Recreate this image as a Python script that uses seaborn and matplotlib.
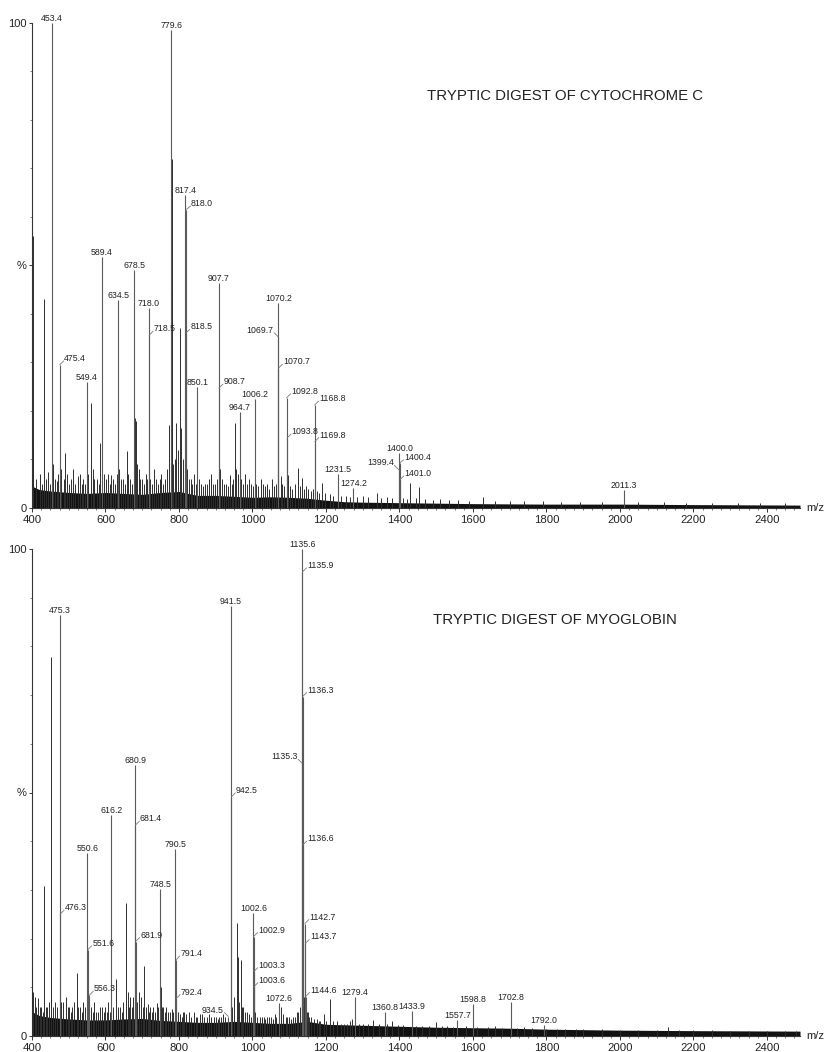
import matplotlib
matplotlib.use("Agg")
import matplotlib.pyplot as plt
import seaborn as sns

# ---------------------------------------------------------------- data
titles = ["TRYPTIC DIGEST OF CYTOCHROME C", "TRYPTIC DIGEST OF MYOGLOBIN"]
x_ticks = [400, 600, 800, 1000, 1200, 1400, 1600, 1800, 2000, 2200, 2400]
y_tick_vals = [0, 50, 100]
y_tick_text = ["0", "%", "100"]

# --- cytochrome c: labelled peaks
cyt_label_mz = [453.4, 475.4, 549.4, 589.4, 634.5, 678.5, 718.0, 718.5, 779.6, 817.4,
                818.0, 818.5, 850.1, 907.7, 908.7, 964.7, 1006.2, 1069.7, 1070.2, 1070.7,
                1092.8, 1093.8, 1168.8, 1169.8, 1231.5, 1274.2, 1399.4, 1400.0, 1400.4, 1401.0,
                2011.3]
cyt_label_int = [100, 29.5, 26, 51.8, 42.9, 49, 41.2, 35.6, 98.5, 64.5,
                 61.4, 36, 25, 46.4, 24.7, 19.8, 22.5, 35.3, 42.2, 28.8,
                 22.7, 14.4, 21.2, 13.7, 7.1, 4.1, 7.8, 11.3, 9.3, 5.8,
                 3.7]
# --- cytochrome c: unlabelled peaks
cyt_minor_mz = [402, 404, 412, 421, 428, 433.5, 438, 444, 448, 458,
                463, 468, 472, 480, 486, 490, 496, 501, 507, 512,
                518, 524, 530, 535, 540, 545, 553, 560, 565, 570,
                576, 581, 585, 591, 596, 601, 606, 611, 615, 620,
                626, 630, 638, 643, 648, 652, 657.6, 662, 667, 672,
                680, 682, 686, 690, 695, 700, 705, 710, 714, 722,
                727, 732, 737, 742, 747, 752, 757, 762, 768, 773,
                780.1, 780.6, 785, 788, 792, 797, 803, 806, 812, 822,
                826, 832, 836, 842, 846, 855, 860, 865, 870, 876,
                882, 888, 893, 898, 903, 912, 917, 922, 928, 934,
                939, 944, 948, 952, 956, 960, 968, 974, 980, 985,
                990, 996, 1002, 1010, 1016, 1022, 1028, 1034, 1040, 1046,
                1052, 1058, 1064, 1077.5, 1081, 1087, 1096, 1102, 1108, 1115,
                1123, 1128, 1134, 1140, 1146, 1152, 1158, 1164, 1175, 1182,
                1190, 1198, 1210, 1220, 1240, 1255, 1265, 1285, 1300, 1315,
                1338, 1350, 1365, 1380, 1410, 1420, 1430, 1445, 1454, 1470,
                1490, 1510, 1535, 1560, 1590, 1628, 1660, 1700, 1740, 1790,
                1840, 1890, 1950, 2050, 2120, 2180, 2250, 2320, 2380, 2450]
cyt_minor_int = [56, 12.6, 6, 7, 5, 43, 6, 7.5, 5, 9,
                 6, 5.5, 7, 8, 6, 11.4, 7, 5, 6, 8,
                 5, 6.5, 7, 5, 6, 5, 7, 21.6, 8, 6,
                 6, 5, 13.4, 9, 7, 6, 7, 5, 6.8, 6,
                 5, 7, 8, 6, 6, 5, 11.8, 7, 6, 5,
                 18.5, 18, 9, 8, 6, 6, 5, 7, 6, 6,
                 5, 8, 6, 5, 6, 7, 5, 6, 8, 17,
                 72, 45, 9, 10, 17.5, 12, 37, 16.5, 10, 8,
                 6, 6, 5, 7, 5, 6, 5, 4.5, 5, 5,
                 6, 7, 5, 5, 6, 8, 6, 5, 5, 4.5,
                 6.8, 5, 6, 17.5, 8, 7, 6, 5, 7, 5,
                 6, 5, 4.5, 5, 4.5, 6, 5, 4.5, 5, 4,
                 6, 4.5, 5, 6.5, 5, 4.5, 6.8, 4.5, 4, 5,
                 8.2, 4.5, 6.2, 4, 4.5, 4, 3.5, 4, 3.5, 3,
                 5.1, 3, 2.8, 2.5, 2.4, 2.5, 2.2, 2.3, 2.5, 2.2,
                 3, 2, 2.2, 2, 2, 1.8, 5.1, 2, 4.4, 1.8,
                 1.7, 1.8, 1.6, 1.7, 1.5, 2.3, 1.5, 1.5, 1.4, 1.4,
                 1.3, 1.3, 1.3, 1.2, 1.2, 1.1, 1.1, 1.0, 1.0, 1.0]
# --- cytochrome c: baseline noise envelope
cyt_noise_mz = [400, 420, 450, 500, 550, 600, 650, 700, 750, 800, 850, 900, 950, 1000,
                1050, 1100, 1150, 1200, 1250, 1300, 1400, 1500, 1600, 1800, 2000, 2200, 2490]
cyt_noise_int = [4.5, 3.8, 3.5, 3.2, 3.0, 3.2, 3.0, 2.8, 3.2, 3.4, 2.6, 2.6, 2.4, 2.2,
                 2.3, 2.2, 2.0, 1.6, 1.3, 1.2, 1.1, 1.0, 0.9, 0.8, 0.8, 0.7, 0.6]

# --- myoglobin: labelled peaks
myo_label_mz = [475.3, 476.3, 550.6, 551.6, 556.3, 616.2, 680.9, 681.4, 681.9, 748.5,
                790.5, 791.4, 792.4, 934.5, 941.5, 942.5, 1002.6, 1002.9, 1003.3, 1003.6,
                1072.6, 1135.3, 1135.6, 1135.9, 1136.3, 1136.6, 1142.7, 1143.7, 1144.6, 1279.4,
                1360.8, 1433.9, 1557.7, 1598.8, 1702.8, 1792.0]
myo_label_int = [86.4, 25, 37.5, 17.7, 8.4, 45.4, 55.6, 43.3, 19.4, 30.1,
                 38.3, 15.6, 7.7, 4.0, 88.3, 49.1, 25.2, 20.4, 13.2, 10.1,
                 6.8, 56, 100, 95.3, 69.7, 39.2, 23.1, 19, 8.1, 8.1,
                 5, 5.2, 3.3, 6.6, 7, 2.3]
# --- myoglobin: unlabelled peaks
myo_minor_mz = [401, 404, 408, 412, 417, 421, 425, 429, 433.6, 438,
                442, 447, 452, 453, 458, 462, 468, 480, 485, 492,
                497, 500, 505, 510, 515, 521.6, 526, 530, 535, 540,
                545, 560, 565, 570, 575, 580, 585, 590, 595, 600,
                604, 608, 612, 621, 628.6, 635, 640, 644, 648, 655,
                660, 664, 668, 672, 676, 686, 691, 697, 701, 705.6,
                710, 715, 718, 722, 726, 730, 734, 739, 743, 750,
                754, 757, 762, 765, 770, 775, 780, 785, 797, 802,
                807, 812, 815, 820, 828, 834, 840, 845, 850, 856,
                862, 868, 875, 881, 888, 894, 900, 905, 910, 915,
                920, 926, 945, 950, 957, 960, 964, 968, 972, 975,
                980, 985, 990, 995, 1008, 1013, 1020, 1025, 1030, 1035,
                1040, 1045, 1050, 1055, 1060, 1065, 1078, 1083, 1090, 1095,
                1100, 1105, 1110, 1115, 1120, 1125, 1128, 1139, 1148, 1150,
                1155, 1160, 1168, 1175, 1180, 1185, 1195, 1200, 1211, 1220,
                1230, 1240, 1250, 1258, 1265, 1272, 1290, 1300, 1315, 1328,
                1345, 1365, 1380, 1395, 1410, 1445, 1460, 1480, 1499, 1515,
                1530, 1545, 1580, 1610, 1640, 1660, 1680, 1720, 1740, 1760,
                1800, 1830, 1850, 1880, 1900, 1950, 2000, 2050, 2100, 2130,
                2160, 2200, 2250, 2300, 2350, 2400, 2450, 2480]
myo_minor_int = [14.2, 9, 8, 6, 7.8, 6, 6, 5, 30.7, 6,
                 6, 7, 77.9, 21.8, 6, 7, 6, 7, 7, 8,
                 6, 6, 5, 6, 7, 12.9, 6, 6, 5, 7,
                 6, 6, 5, 7, 5, 5, 6, 6, 5, 6,
                 5, 7, 5, 6, 11.8, 6, 6, 5, 7, 27.4,
                 9, 6, 8, 6, 8, 7, 9.1, 8, 6, 14.4,
                 6, 6.5, 5, 6, 5, 6, 5, 6.8, 6, 10,
                 6, 6, 5, 6, 5, 5, 5.5, 5, 5, 4.5,
                 4, 5, 5, 4.5, 5, 4, 5, 4, 4, 4.5,
                 4.5, 4, 4, 4.5, 4, 4, 4, 3.5, 4, 4,
                 4.5, 4, 6, 8, 23.3, 16.3, 7, 15.6, 6, 6,
                 5, 5, 4.5, 4, 5, 4, 4, 4, 4, 3.5,
                 4, 4, 4, 3.5, 4.5, 4, 6, 4.5, 4, 4,
                 4, 3.5, 4, 4, 5, 5, 6, 8, 5, 5,
                 4, 4, 3.5, 3.5, 3, 3, 4.5, 3, 7.5, 3,
                 3, 2.5, 2.5, 2.5, 3, 3.5, 2.5, 2.5, 2.5, 3.3,
                 2.5, 2.5, 3, 2.2, 2.2, 2, 2, 2, 2.8, 2,
                 2, 1.9, 2, 1.8, 1.8, 2, 1.7, 1.7, 1.8, 1.6,
                 1.5, 1.5, 1.5, 1.4, 1.4, 1.4, 1.3, 1.3, 1.3, 1.8,
                 1.2, 1.2, 1.2, 1.1, 1.1, 1.1, 1.0, 1.0]
# --- myoglobin: baseline noise envelope
myo_noise_mz = [400, 420, 450, 500, 550, 600, 650, 700, 750, 800, 850, 900, 950, 1000,
                1050, 1100, 1150, 1200, 1300, 1400, 1500, 1600, 1700, 1800, 2000, 2200, 2490]
myo_noise_int = [5.0, 4.2, 3.8, 3.5, 3.3, 3.3, 3.5, 3.6, 3.2, 3.0, 2.8, 2.8, 3.0, 2.8,
                 2.6, 2.6, 3.0, 2.4, 2.2, 2.0, 1.8, 1.7, 1.6, 1.4, 1.2, 1.1, 1.0]

# ---------------------------------------------------------------- layout
# leader-line label offsets in pixels (dx, dy); peaks not listed get a centred label
cyt_leaders = {"475.4": (4, 4), "718.5": (4, 4), "818.0": (5, 4), "818.5": (4, 4),
               "908.7": (4, 4), "1069.7": (-4, 4), "1070.7": (4, 4), "1092.8": (4, 4),
               "1093.8": (4, 4), "1168.8": (4, 4), "1169.8": (4, 4), "1399.4": (-5, 5),
               "1400.4": (4, 3), "1401.0": (4, 4)}
myo_leaders = {"476.3": (4, 4), "551.6": (4, 4), "556.3": (4, 4), "681.4": (4, 4),
               "681.9": (4, 4), "791.4": (4, 4), "792.4": (4, 4), "934.5": (-4, 4),
               "942.5": (4, 4), "1002.9": (4, 4), "1003.3": (4, 4), "1003.6": (4, 4),
               "1135.3": (-4, 4), "1135.9": (4, 4), "1136.3": (4, 4), "1136.6": (4, 4),
               "1142.7": (4, 4), "1143.7": (4, 4), "1144.6": (4, 4)}

W, H = 825, 1052
XMIN, XMAX = 400, 2490
AX_LEFT, AX_RIGHT = 32, 800
panels = [  # (top px, bottom px)
    (22.7, 508.0),
    (549.0, 1036.0),
]
title_pos = [(427, 96), (433, 620)]

sns.set_theme(style="ticks")
plt.rcParams["font.family"] = ["Liberation Sans", "DejaVu Sans"]
TXT = "#222222"

fig = plt.figure(figsize=(W / 100, H / 100), dpi=100)
fig.patch.set_facecolor("white")

datasets = [
    (cyt_label_mz, cyt_label_int, cyt_minor_mz, cyt_minor_int, cyt_noise_mz, cyt_noise_int, cyt_leaders),
    (myo_label_mz, myo_label_int, myo_minor_mz, myo_minor_int, myo_noise_mz, myo_noise_int, myo_leaders),
]

for i, ((ptop, pbot), data) in enumerate(zip(panels, datasets)):
    lab_mz, lab_int, min_mz, min_int, n_mz, n_int, leaders = data
    assert len(lab_mz) == len(lab_int) and len(min_mz) == len(min_int) and len(n_mz) == len(n_int)
    ax = fig.add_axes([AX_LEFT / W, 1 - pbot / H, (AX_RIGHT - AX_LEFT) / W, (pbot - ptop) / H])
    ax.set_facecolor("white")
    ax.set_xlim(XMIN, XMAX)
    ax.set_ylim(0, 100)
    mz_per_px = (XMAX - XMIN) / (AX_RIGHT - AX_LEFT)
    pct_per_px = 100.0 / (pbot - ptop)

    # baseline grass and sticks
    ax.fill_between(n_mz, 0, n_int, color="#121212", lw=0, zorder=2)
    ax.vlines(min_mz, 0, min_int, colors="#2e2e2e", lw=0.7, zorder=3)
    ax.vlines(lab_mz, 0, lab_int, colors="#5a5a5a", lw=0.8, zorder=3)

    # peak labels
    for m, h in zip(lab_mz, lab_int):
        key = f"{m:.1f}"
        if key in leaders:
            dx, dy = leaders[key]
            x1 = m + dx * mz_per_px
            y1 = h + dy * pct_per_px
            ax.plot([m, x1], [h, y1], color="#7a7a7a", lw=0.6, zorder=4, clip_on=False)
            sgn = 1 if dx > 0 else -1
            ax.text(x1 + sgn * 0.5 * mz_per_px, y1, key, ha="left" if dx > 0 else "right",
                    va="baseline", fontsize=6.3, color=TXT, zorder=5, clip_on=False)
        else:
            ax.text(m, h + 2 * pct_per_px, key, ha="center", va="baseline",
                    fontsize=6.3, color=TXT, zorder=5, clip_on=False)

    # axes styling
    sns.despine(ax=ax, top=True, right=True)
    for s in ("left", "bottom"):
        ax.spines[s].set_linewidth(0.8)
        ax.spines[s].set_color("#333333")
    ax.set_xticks(x_ticks)
    ax.set_xticklabels([str(t) for t in x_ticks])
    ax.set_xticks(list(range(400, 2490, 25)), minor=True)
    ax.set_yticks(y_tick_vals)
    ax.set_yticklabels(y_tick_text)
    ax.set_yticks([10, 20, 30, 40, 60, 70, 80, 90], minor=True)
    ax.tick_params(axis="x", which="major", direction="out", length=3.2, width=0.7,
                   color="#333333", labelsize=8.2, labelcolor=TXT, pad=1.5)
    ax.tick_params(axis="x", which="minor", direction="out", length=1.6, width=0.5, color="#444444")
    ax.tick_params(axis="y", which="major", direction="out", length=2.5, width=0.7,
                   color="#333333", labelsize=8, labelcolor=TXT, pad=1.5)
    ax.tick_params(axis="y", which="minor", direction="out", length=1.6, width=0.5, color="#555555")
    ax.grid(False)
    ax.annotate("m/z", xy=(1, 0), xycoords="axes fraction", xytext=(6, 0),
                textcoords="offset pixels", ha="left", va="center", fontsize=8, color=TXT)

    tx, ty = title_pos[i]
    fig.text(tx / W, 1 - ty / H, titles[i], ha="left", va="center", fontsize=10.8, color=TXT)

fig.savefig("out.png", dpi=100, facecolor="white")
